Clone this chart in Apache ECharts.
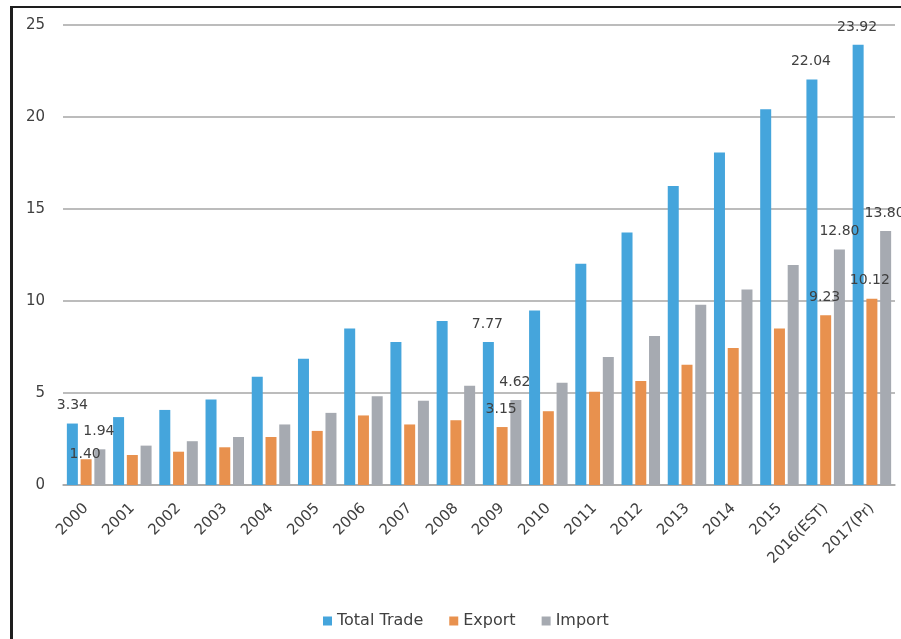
<!DOCTYPE html>
<html>
<head>
<meta charset="utf-8">
<script src="https://cdn.jsdelivr.net/npm/echarts@6/dist/echarts.min.js"></script>
<style>
  html, body { margin: 0; padding: 0; background: #fff; overflow: hidden; }
  #frame { position: absolute; left: 10px; top: 6px; width: 1200px; height: 900px;
           border-left: 3px solid #1e1e1e; border-top: 2px solid #1e1e1e; }
  #chart { position: absolute; left: 0; top: 0; width: 901px; height: 639px; }
</style>
</head>
<body>
<div id="frame"></div>
<div id="chart"></div>
<script>
const categories = ['2000','2001','2002','2003','2004','2005','2006','2007','2008','2009',
  '2010','2011','2012','2013','2014','2015','2016(EST)','2017(Pr)'];
const totalTrade = [3.34, 3.69, 4.08, 4.65, 5.88, 6.86, 8.50, 7.77, 8.91, 7.77,
  9.48, 12.02, 13.72, 16.25, 18.07, 20.42, 22.04, 23.92];
const exportVals = [1.40, 1.63, 1.81, 2.05, 2.61, 2.94, 3.78, 3.29, 3.52, 3.15,
  4.01, 5.07, 5.65, 6.54, 7.44, 8.50, 9.23, 10.12];
const importVals = [1.94, 2.14, 2.38, 2.61, 3.29, 3.92, 4.83, 4.58, 5.39, 4.62,
  5.56, 6.95, 8.10, 9.80, 10.62, 11.95, 12.80, 13.80];
const yTicks = { min: 0, max: 25, interval: 5 };

// indices of categories whose values are labelled
const labelledIdx = [0, 9, 16, 17];
// label offsets (style), per series, keyed by category index
const labelOffsets = {
  total:  { 0: [0, 0], 9: [-1, 0], 16: [-1, 0], 17: [-1, 0] },
  export: { 0: [-1, 13], 9: [-1, 0], 16: [-1, 0], 17: [-2, 0] },
  import: { 0: [-1, 0], 9: [-1, 0], 16: [0, 0], 17: [-1, 0] }
};

function buildData(values, key) {
  return values.map((v, i) => {
    if (labelledIdx.indexOf(i) >= 0) {
      return { value: v, label: { show: true, offset: labelOffsets[key][i] } };
    }
    return v;
  });
}

const labelStyle = {
  show: false,
  position: 'top',
  distance: 11,
  fontFamily: 'DejaVu Sans',
  fontSize: 14,
  color: '#404040',
  formatter: p => Number(p.value).toFixed(2)
};

const chart = echarts.init(document.getElementById('chart'), null, { renderer: 'canvas' });
chart.setOption({
  animation: false,
  backgroundColor: 'transparent',
  grid: { left: 63, right: 6, top: 25, bottom: 154, containLabel: false },
  legend: {
    data: ['Total Trade', 'Export', 'Import'],
    top: 608,
    left: 318,
    icon: 'rect',
    itemWidth: 9,
    itemHeight: 9,
    itemGap: 26,
    textStyle: { fontFamily: 'DejaVu Sans', fontSize: 16, color: '#404040' }
  },
  xAxis: {
    type: 'category',
    data: categories,
    axisLine: { show: true, lineStyle: { color: '#a6a6a6', width: 1.5 } },
    axisTick: { show: false },
    axisLabel: {
      rotate: 45,
      interval: 0,
      margin: 21,
      fontFamily: 'DejaVu Sans',
      fontSize: 15,
      color: '#404040'
    }
  },
  yAxis: {
    type: 'value',
    min: yTicks.min,
    max: yTicks.max,
    interval: yTicks.interval,
    axisLine: { show: false },
    axisTick: { show: false },
    splitLine: { lineStyle: { color: '#a6a6a6', width: 1.5 } },
    axisLabel: { margin: 18, fontFamily: 'DejaVu Sans', fontSize: 15, color: '#404040' }
  },
  series: [
    { name: 'Total Trade', type: 'bar', barWidth: 11, barGap: '25%',
      itemStyle: { color: '#45a5dc' }, label: labelStyle, data: buildData(totalTrade, 'total') },
    { name: 'Export', type: 'bar', barWidth: 11, barGap: '25%',
      itemStyle: { color: '#e8914e' }, label: labelStyle, data: buildData(exportVals, 'export') },
    { name: 'Import', type: 'bar', barWidth: 11, barGap: '25%',
      itemStyle: { color: '#a6aab1' }, label: labelStyle, data: buildData(importVals, 'import') }
  ]
});
</script>
</body>
</html>
